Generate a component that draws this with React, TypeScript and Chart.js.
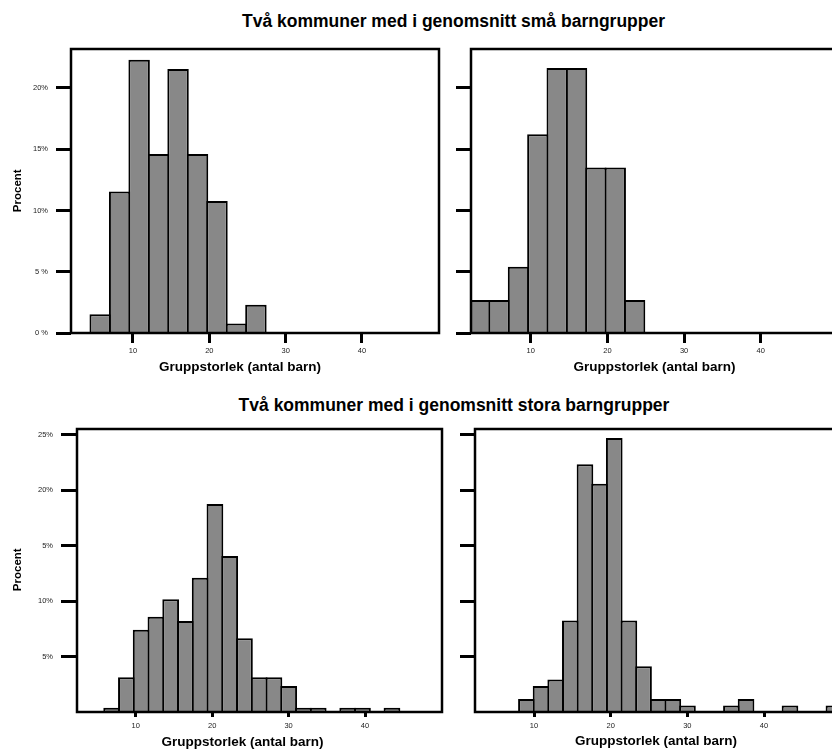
import React, { useEffect, useRef } from 'react';
import { Chart, registerables } from 'chart.js';

Chart.register(...registerables);

// ---------- Data ----------
const titleSmallGroups = 'Två kommuner med i genomsnitt små barngrupper';
const titleLargeGroups = 'Två kommuner med i genomsnitt stora barngrupper';
const xAxisTitle = 'Gruppstorlek (antal barn)';
const yAxisTitle = 'Procent';

const xTickValues = [10, 20, 30, 40];
const topYTickValues = [0, 5, 10, 15, 20];
const topYTickLabels = ['0 %', '5 %', '10%', '15%', '20%'];
const bottomYTickValues = [5, 10, 15, 20, 25];
const bottomYTickLabels = ['5%', '10%', '5%', '20%', '25%'];

// histogram bins: first bin lower edge, bin width, percent per bin
const topLeftBinStart = 4.43;
const topLeftBinWidth = 2.55;
const topLeftPercent = [1.54, 11.54, 22.31, 14.62, 21.54, 14.62, 10.77, 0.77, 2.31];

const topRightBinStart = 2.09;
const topRightBinWidth = 2.525;
const topRightPercent = [2.7, 2.7, 5.41, 16.22, 21.62, 21.62, 13.51, 13.51, 2.7];

const bottomLeftBinStart = 5.89;
const bottomLeftBinWidth = 1.93;
const bottomLeftPercent = [
  0.39, 3.13, 7.42, 8.59, 10.16, 8.2, 12.11, 18.75, 14.06, 6.64,
  3.13, 3.13, 2.34, 0.39, 0.39, 0, 0.39, 0.39, 0, 0.39,
];

const bottomRightBinStart = 8.05;
const bottomRightBinWidth = 1.91;
const bottomRightPercent = [
  1.18, 2.35, 2.94, 8.24, 22.35, 20.59, 24.71, 8.24, 4.12, 1.18, 1.18,
  0.59, 0, 0, 0.59, 1.18, 0, 0, 0.59, 0, 0, 0.59,
];

// ---------- Layout / style ----------
const FONT = "'Liberation Sans', Arial, Helvetica, sans-serif";
const BAR_FILL = '#888888';
const BAR_BORDER = 2;
const XAXIS_H = 20;

type PanelCfg = {
  canvas: { left: number; top: number; width: number; height: number };
  area: { l: number; t: number; r: number; b: number };
  xMin: number;
  xMax: number;
  yMax: number;
  binStart: number;
  binWidth: number;
  values: number[];
  yTicks: number[];
  yLabels: string[] | null;
  xTickLen: number;
  yTickLen: number;
  xLabelPad: number;
  yLabelPad: number;
};

const panels: PanelCfg[] = [
  {
    canvas: { left: 0, top: 40, width: 450, height: 345 },
    area: { l: 71, t: 49, r: 439, b: 333 },
    xMin: 1.88, xMax: 50.09, yMax: 23.18,
    binStart: topLeftBinStart, binWidth: topLeftBinWidth, values: topLeftPercent,
    yTicks: topYTickValues, yLabels: topYTickLabels,
    xTickLen: 10, yTickLen: 15, xLabelPad: 3, yLabelPad: 8,
  },
  {
    canvas: { left: 450, top: 40, width: 400, height: 345 },
    area: { l: 471, t: 49, r: 839, b: 333 },
    xMin: 2.21, xMax: 50.21, yMax: 23.18,
    binStart: topRightBinStart, binWidth: topRightBinWidth, values: topRightPercent,
    yTicks: topYTickValues, yLabels: null,
    xTickLen: 10, yTickLen: 15, xLabelPad: 3, yLabelPad: 8,
  },
  {
    canvas: { left: 0, top: 420, width: 450, height: 331 },
    area: { l: 77, t: 429, r: 442, b: 712 },
    xMin: 2.32, xMax: 50.07, yMax: 25.52,
    binStart: bottomLeftBinStart, binWidth: bottomLeftBinWidth, values: bottomLeftPercent,
    yTicks: bottomYTickValues, yLabels: bottomYTickLabels,
    xTickLen: 5, yTickLen: 16, xLabelPad: 4, yLabelPad: 8,
  },
  {
    canvas: { left: 450, top: 420, width: 400, height: 331 },
    area: { l: 475, t: 429, r: 842, b: 712 },
    xMin: 2.3, xMax: 50.17, yMax: 25.52,
    binStart: bottomRightBinStart, binWidth: bottomRightBinWidth, values: bottomRightPercent,
    yTicks: bottomYTickValues, yLabels: null,
    xTickLen: 5, yTickLen: 15, xLabelPad: 4, yLabelPad: 8,
  },
];

const framePlugin = {
  id: 'frame',
  afterDraw(chart: any) {
    const { ctx, chartArea: a } = chart;
    ctx.save();
    ctx.strokeStyle = '#000';
    ctx.lineWidth = 2.5;
    ctx.strokeRect(a.left, a.top, a.right - a.left, a.bottom - a.top);
    ctx.restore();
  },
};

function Histogram({ cfg }: { cfg: PanelCfg }) {
  const ref = useRef<HTMLCanvasElement>(null);
  useEffect(() => {
    const c = cfg.canvas;
    const a = cfg.area;
    const pxPerUnit = (a.r - a.l) / (cfg.xMax - cfg.xMin);
    const binPx = cfg.binWidth * pxPerUnit;
    const chart = new Chart(ref.current as HTMLCanvasElement, {
      type: 'bar',
      data: {
        datasets: [
          {
            data: cfg.values.map((v, i) => ({ x: cfg.binStart + cfg.binWidth * (i + 0.5), y: v })),
            backgroundColor: BAR_FILL,
            borderColor: '#000',
            borderWidth: BAR_BORDER,
            borderSkipped: 'start',
            barPercentage: 1 + BAR_BORDER / binPx,
            categoryPercentage: 1,
          } as any,
        ],
      },
      options: {
        responsive: false,
        maintainAspectRatio: false,
        animation: false,
        events: [],
        layout: {
          padding: {
            left: 0,
            top: a.t - c.top,
            right: c.left + c.width - a.r,
            bottom: c.top + c.height - a.b - XAXIS_H,
          },
        },
        plugins: { legend: { display: false }, tooltip: { enabled: false }, title: { display: false } },
        scales: {
          x: {
            type: 'linear',
            min: cfg.xMin,
            max: cfg.xMax,
            offset: false,
            afterBuildTicks: (s: any) => {
              s.ticks = xTickValues.map((v) => ({ value: v }));
            },
            afterFit: (s: any) => {
              s.height = XAXIS_H;
              s.paddingLeft = 0;
              s.paddingRight = 0;
              s.paddingTop = 0;
              s.paddingBottom = 0;
            },
            grid: {
              display: true,
              drawOnChartArea: false,
              drawTicks: true,
              tickLength: cfg.xTickLen,
              tickWidth: 3,
              tickColor: '#000',
              offset: false,
            },
            border: { display: false },
            ticks: {
              autoSkip: false,
              maxRotation: 0,
              padding: cfg.xLabelPad,
              color: '#222',
              font: { family: FONT, size: 7.5 },
              callback: (v: any) => String(v),
            },
          },
          y: {
            type: 'linear',
            min: 0,
            max: cfg.yMax,
            afterBuildTicks: (s: any) => {
              s.ticks = cfg.yTicks.map((v) => ({ value: v }));
            },
            afterFit: (s: any) => {
              s.width = a.l - c.left;
              s.paddingTop = 0;
              s.paddingBottom = 0;
              s.paddingLeft = 0;
              s.paddingRight = 0;
            },
            grid: {
              display: true,
              drawOnChartArea: false,
              drawTicks: true,
              tickLength: cfg.yTickLen,
              tickWidth: 3,
              tickColor: '#000',
            },
            border: { display: false },
            ticks: {
              autoSkip: false,
              padding: cfg.yLabelPad,
              color: '#222',
              font: { family: FONT, size: 7.5 },
              callback: (_v: any, i: number) => (cfg.yLabels ? cfg.yLabels[i] : ''),
            },
          },
        },
      } as any,
      plugins: [framePlugin],
    });
    return () => chart.destroy();
  }, [cfg]);
  const c = cfg.canvas;
  return (
    <canvas
      ref={ref}
      width={c.width}
      height={c.height}
      style={{ position: 'absolute', left: c.left, top: c.top, width: c.width, height: c.height }}
    />
  );
}

function Text({ text, cx, baseline, size, rotate }: { text: string; cx: number; baseline: number; size: number; rotate?: boolean }) {
  if (rotate) {
    const w = 200;
    return (
      <div
        style={{
          position: 'absolute',
          left: cx - w / 2,
          top: baseline - size / 2,
          width: w,
          height: size,
          lineHeight: `${size}px`,
          fontSize: size,
          fontFamily: FONT,
          fontWeight: 'bold',
          textAlign: 'center',
          color: '#000',
          transform: 'rotate(-90deg)',
          transformOrigin: '50% 50%',
          whiteSpace: 'nowrap',
        }}
      >
        {text}
      </div>
    );
  }
  const w = 600;
  return (
    <div
      style={{
        position: 'absolute',
        left: cx - w / 2,
        top: baseline - size * 0.8465,
        width: w,
        lineHeight: `${size}px`,
        fontSize: size,
        fontFamily: FONT,
        fontWeight: 'bold',
        textAlign: 'center',
        color: '#000',
        whiteSpace: 'nowrap',
      }}
    >
      {text}
    </div>
  );
}

export default function App() {
  return (
    <div
      style={{
        position: 'fixed',
        left: 0,
        top: 0,
        width: 832,
        height: 751,
        overflow: 'hidden',
        background: '#fff',
      }}
    >
      {panels.map((p, i) => (
        <Histogram key={i} cfg={p} />
      ))}
      <Text text={titleSmallGroups} cx={453.5} baseline={28.3} size={17.5} />
      <Text text={titleLargeGroups} cx={454} baseline={412} size={17.5} />
      <Text text={xAxisTitle} cx={240} baseline={371.5} size={13.5} />
      <Text text={xAxisTitle} cx={654.5} baseline={371.5} size={13.5} />
      <Text text={xAxisTitle} cx={242.5} baseline={746} size={13.5} />
      <Text text={xAxisTitle} cx={656} baseline={745} size={13.5} />
      <Text text={yAxisTitle} cx={18} baseline={191} size={11.5} rotate />
      <Text text={yAxisTitle} cx={18} baseline={570} size={11.5} rotate />
    </div>
  );
}
